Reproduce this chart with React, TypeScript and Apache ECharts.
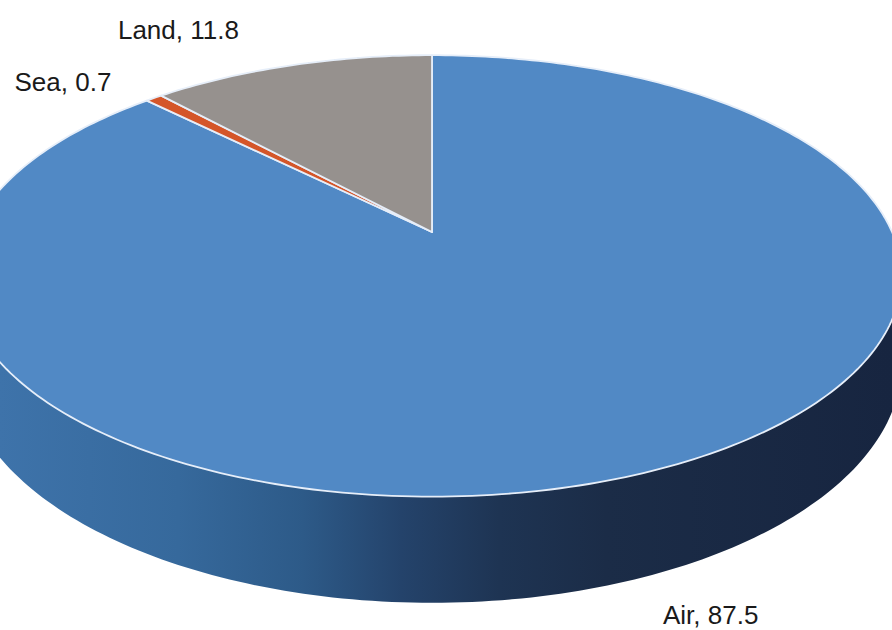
import React, { useEffect, useRef } from "react";
import * as echarts from "echarts";

const categories = ["Air", "Sea", "Land"];
const values = [87.5, 0.7, 11.8];
const sliceColors = ["#5189c5", "#d4562a", "#96918e"];

// geometry / style (not data)
const CX = 432;
const CY = 232;
const SX = 460;
const SY = 212;
const K = 0.199;
const H = 85;
const LABEL_OFFSETS = [
  [63, 143],
  [-91, -16],
  [-113, -35],
];

function proj(theta: number, drop: number): number[] {
  const u = Math.sin(theta);
  const v = Math.cos(theta);
  const p = 1 + K * v;
  return [CX + (SX * u) / p, CY - (SY * v) / p + drop / p];
}

function arc(a0: number, a1: number, drop: number): number[][] {
  const n = Math.max(2, Math.ceil(((a1 - a0) / (2 * Math.PI)) * 360));
  const pts: number[][] = [];
  for (let i = 0; i <= n; i++) {
    pts.push(proj(a0 + ((a1 - a0) * i) / n, drop));
  }
  return pts;
}

function angles(i: number): [number, number] {
  const total = values.reduce((a, b) => a + b, 0);
  let before = 0;
  for (let j = 0; j < i; j++) before += values[j];
  return [
    (before / total) * Math.PI * 2,
    ((before + values[i]) / total) * Math.PI * 2,
  ];
}

export default function App() {
  const ref = useRef<HTMLDivElement>(null);
  useEffect(() => {
    document.body.style.margin = "0";
    if (!ref.current) return;
    const chart = echarts.init(ref.current, undefined, { renderer: "svg" });
    const data = categories.map((c, i) => ({ name: c, value: values[i] }));
    const sideGrad = new echarts.graphic.LinearGradient(
      0,
      0,
      892,
      0,
      [
        { offset: 0, color: "#3e73aa" },
        { offset: 0.2, color: "#36699c" },
        { offset: 0.34, color: "#2d5a88" },
        { offset: 0.45, color: "#24436b" },
        { offset: 0.56, color: "#1e3453" },
        { offset: 0.68, color: "#1b2c47" },
        { offset: 1, color: "#172540" },
      ],
      true
    );
    chart.setOption({
      animation: false,
      backgroundColor: "#ffffff",
      series: [
        {
          type: "custom",
          name: "side",
          coordinateSystem: "none",
          z: 1,
          data,
          renderItem: (params: any, api: any) => {
            const i = params.dataIndex;
            const [a0, a1] = angles(i);
            const top = arc(a0, a1, 0);
            const bot = arc(a0, a1, H).reverse();
            return {
              type: "polygon",
              shape: { points: top.concat(bot) },
              style: { fill: i === 0 ? sideGrad : sliceColors[i], stroke: "none" },
            };
          },
        },
        {
          type: "custom",
          name: "top",
          coordinateSystem: "none",
          z: 2,
          data,
          renderItem: (params: any, api: any) => {
            const i = params.dataIndex;
            const [a0, a1] = angles(i);
            const pts = [[CX, CY]].concat(arc(a0, a1, 0));
            return {
              type: "polygon",
              shape: { points: pts },
              style: {
                fill: sliceColors[i],
                stroke: "#e6eef9",
                lineWidth: 1.8,
                lineJoin: "round",
              },
            };
          },
        },
        {
          type: "custom",
          name: "labels",
          coordinateSystem: "none",
          z: 3,
          data,
          renderItem: (params: any, api: any) => {
            const i = params.dataIndex;
            const [a0, a1] = angles(i);
            const m = proj((a0 + a1) / 2, 0);
            const off = LABEL_OFFSETS[i];
            return {
              type: "text",
              x: m[0] + off[0],
              y: m[1] + off[1],
              style: {
                text: categories[i] + ", " + api.value(0),
                fill: "#1a1a1a",
                font: '26px "Liberation Sans", Arial, sans-serif',
                align: "center",
                verticalAlign: "middle",
              },
            };
          },
        },
      ],
    });
    return () => chart.dispose();
  }, []);
  return <div ref={ref} style={{ width: 892, height: 630 }} />;
}
